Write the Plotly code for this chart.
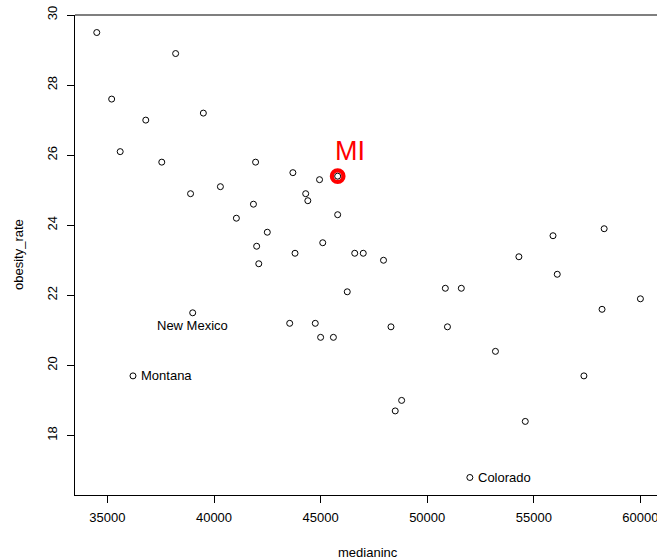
import plotly.graph_objects as go

# Data
median_income = [34500, 38200, 35200, 36800, 39500, 35600, 37550, 41950, 40300, 38900,
                 41850, 41050, 42500, 42000, 43700, 44950, 45800, 44300, 44400, 45800,
                 45100, 43800, 46600, 47000, 47950, 46250, 50850, 51600, 43550, 44750,
                 45000, 45600, 48300, 50950, 48800, 48500, 42100, 39000, 36200, 54300,
                 56100, 60000, 58200, 53200, 57350, 54600, 52000, 58300, 55900]
obesity_rate = [29.5, 28.9, 27.6, 27.0, 27.2, 26.1, 25.8, 25.8, 25.1, 24.9,
                24.6, 24.2, 23.8, 23.4, 25.5, 25.3, 25.4, 24.9, 24.7, 24.3,
                23.5, 23.2, 23.2, 23.2, 23.0, 22.1, 22.2, 22.2, 21.2, 21.2,
                20.8, 20.8, 21.1, 21.1, 19.0, 18.7, 22.9, 21.5, 19.7, 23.1,
                22.6, 21.9, 21.6, 20.4, 19.7, 18.4, 16.8, 23.9, 23.7]
state_labels = [""] * len(median_income)
state_labels[37] = "New Mexico"
state_labels[38] = "Montana"
state_labels[46] = "Colorado"
highlight_index = 16
highlight_text = "MI"

x_ticks = [35000, 40000, 45000, 50000, 55000, 60000]
y_ticks = [18, 20, 22, 24, 26, 28, 30]

FONT = "Liberation Sans, Arial, Helvetica, sans-serif"

fig = go.Figure()

# highlighted point ring
fig.add_trace(go.Scatter(
    x=[median_income[highlight_index]], y=[obesity_rate[highlight_index]],
    mode="markers",
    marker=dict(symbol="circle-open", size=11.5, color="red", line=dict(width=4.3, color="red")),
    hoverinfo="skip", showlegend=False,
))

# all points
fig.add_trace(go.Scatter(
    x=median_income, y=obesity_rate, mode="markers",
    marker=dict(symbol="circle", size=6, color="white", line=dict(width=1.0, color="black")),
    showlegend=False,
))

annotations = []
for xi, yi, lab in zip(median_income, obesity_rate, state_labels):
    if not lab:
        continue
    if lab == "New Mexico":
        annotations.append(dict(x=xi, y=yi, text=lab, showarrow=False, xanchor="center",
                                yanchor="top", yshift=-3, font=dict(size=13, color="black", family=FONT)))
    else:
        annotations.append(dict(x=xi, y=yi, text=lab, showarrow=False, xanchor="left",
                                yanchor="middle", xshift=6, font=dict(size=13, color="black", family=FONT)))

annotations.append(dict(x=median_income[highlight_index], y=obesity_rate[highlight_index],
                        text=highlight_text, showarrow=False, xanchor="center", yanchor="middle",
                        xshift=12, yshift=25, font=dict(size=27, color="red", family=FONT)))

# axis titles
annotations.append(dict(x=0.503, y=0, xref="paper", yref="paper", text="medianinc",
                        showarrow=False, xanchor="center", yanchor="middle", yshift=-57,
                        font=dict(size=13, color="black", family=FONT)))
annotations.append(dict(x=0, y=0.5, xref="paper", yref="paper", text="obesity_rate",
                        showarrow=False, xanchor="center", yanchor="middle", xshift=-57,
                        textangle=-90, font=dict(size=13, color="black", family=FONT)))

fig.update_layout(
    width=657, height=559,
    margin=dict(l=75, r=0, t=15, b=64, pad=0),
    paper_bgcolor="white", plot_bgcolor="white",
    font=dict(family=FONT, size=13, color="black"),
    annotations=annotations,
    shapes=[dict(type="line", xref="paper", yref="paper", x0=0, x1=1, y0=1, y1=1,
                 line=dict(color="black", width=1.2))],
    xaxis=dict(range=[33480, 60778], tickmode="array", tickvals=x_ticks,
               ticktext=[str(v) for v in x_ticks], ticklabeloverflow="allow",
               ticklabelstandoff=3,
               showgrid=False, zeroline=False, showline=True, linecolor="black", linewidth=1,
               ticks="outside", ticklen=7, tickwidth=1, tickcolor="black",
               tickfont=dict(size=13, color="black", family=FONT)),
    yaxis=dict(range=[16.3, 30.0], tickmode="array", tickvals=y_ticks,
               ticktext=[str(v) for v in y_ticks], tickangle=-90,
               ticklabelstandoff=5,
               showgrid=False, zeroline=False, showline=True, linecolor="black", linewidth=1,
               ticks="outside", ticklen=7, tickwidth=1, tickcolor="black",
               tickfont=dict(size=13, color="black", family=FONT)),
)

fig.write_html("out.html", config={"displayModeBar": False},
               post_script="document.body.style.margin='0';document.body.style.overflow='hidden';")
